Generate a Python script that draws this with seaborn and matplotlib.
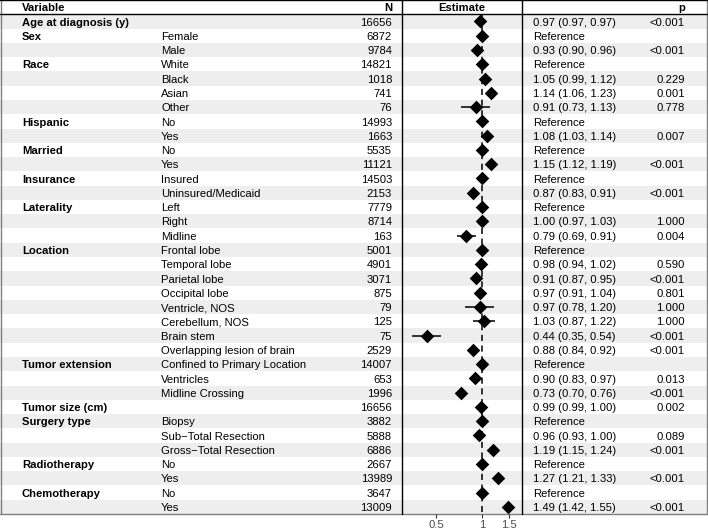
import numpy as np
import pandas as pd
import matplotlib
matplotlib.use("Agg")
import matplotlib.pyplot as plt
import seaborn as sns

# --- data ---
variable = ["Age at diagnosis (y)", "Sex", "", "Race", "", "", "", "Hispanic", "",
            "Married", "", "Insurance", "", "Laterality", "", "", "Location", "", "",
            "", "", "", "", "", "Tumor extension", "", "", "Tumor size (cm)",
            "Surgery type", "", "", "Radiotherapy", "", "Chemotherapy", ""]
level = ["", "Female", "Male", "White", "Black", "Asian", "Other", "No", "Yes",
         "No", "Yes", "Insured", "Uninsured/Medicaid", "Left", "Right", "Midline",
         "Frontal lobe", "Temporal lobe", "Parietal lobe", "Occipital lobe",
         "Ventricle, NOS", "Cerebellum, NOS", "Brain stem", "Overlapping lesion of brain",
         "Confined to Primary Location", "Ventricles", "Midline Crossing", "",
         "Biopsy", "Sub\u2212Total Resection", "Gross\u2212Total Resection", "No", "Yes",
         "No", "Yes"]
n_obs = [16656, 6872, 9784, 14821, 1018, 741, 76, 14993, 1663, 5535, 11121, 14503,
         2153, 7779, 8714, 163, 5001, 4901, 3071, 875, 79, 125, 75, 2529, 14007, 653,
         1996, 16656, 3882, 5888, 6886, 2667, 13989, 3647, 13009]
# None = reference level
hr = [0.97, None, 0.93, None, 1.05, 1.14, 0.91, None, 1.08, None, 1.15, None, 0.87,
      None, 1.00, 0.79, None, 0.98, 0.91, 0.97, 0.97, 1.03, 0.44, 0.88, None, 0.90,
      0.73, 0.99, None, 0.96, 1.19, None, 1.27, None, 1.49]
ci_low = [0.97, None, 0.90, None, 0.99, 1.06, 0.73, None, 1.03, None, 1.12, None, 0.83,
          None, 0.97, 0.69, None, 0.94, 0.87, 0.91, 0.78, 0.87, 0.35, 0.84, None, 0.83,
          0.70, 0.99, None, 0.93, 1.15, None, 1.21, None, 1.42]
ci_high = [0.97, None, 0.96, None, 1.12, 1.23, 1.13, None, 1.14, None, 1.19, None, 0.91,
           None, 1.03, 0.91, None, 1.02, 0.95, 1.04, 1.20, 1.22, 0.54, 0.92, None, 0.97,
           0.76, 1.00, None, 1.00, 1.24, None, 1.33, None, 1.55]
p_val = ["<0.001", "", "<0.001", "", "0.229", "0.001", "0.778", "", "0.007", "",
         "<0.001", "", "<0.001", "", "1.000", "0.004", "", "0.590", "<0.001", "0.801",
         "1.000", "1.000", "<0.001", "<0.001", "", "0.013", "<0.001", "0.002", "",
         "0.089", "<0.001", "", "<0.001", "", "<0.001"]

df = pd.DataFrame({"variable": variable, "level": level, "n": n_obs,
                   "hr": hr, "lo": ci_low, "hi": ci_high, "p": p_val})
df["row"] = np.arange(len(df)) + 1.5          # row 0 is the header
df["hr_plot"] = df["hr"].fillna(1.0)

sns.set_style("white")
plt.rcParams["font.family"] = ["Liberation Sans", "DejaVu Sans"]
plt.rcParams["text.color"] = "black"
FS = 8.1
DY = 0.08   # small downward nudge of the text inside each row

fig = plt.figure(figsize=(7.08, 5.31), dpi=100)
H = 514 / 531
nrows = len(df) + 1

# table background axes (x in pixels)
tab = fig.add_axes([0, 1 - H, 1, H])
tab.set_xlim(0, 708)
tab.set_ylim(nrows, 0)
tab.axis("off")

for j in range(len(df)):
    if j % 2 == 0:
        tab.axhspan(j + 1, j + 2, color="#EEEEEE", lw=0)

# borders
tab.plot([1, 1], [0, nrows], color="#7F7F7F", lw=1, clip_on=False)
tab.plot([707, 707], [0, nrows], color="#7F7F7F", lw=1, clip_on=False)
tab.plot([0, 708], [nrows, nrows], color="#7F7F7F", lw=1, clip_on=False)
tab.plot([0, 708], [0, 0], color="black", lw=1, clip_on=False)
tab.plot([0, 708], [1, 1], color="black", lw=1, clip_on=False)
for xv in (402, 522):
    tab.plot([xv, xv], [0, nrows], color="black", lw=1, clip_on=False)

# header
tab.text(22, 0.5 + DY, "Variable", fontsize=FS, fontweight="bold", va="center")
tab.text(392, 0.5 + DY, "N", fontsize=FS, fontweight="bold", va="center", ha="right")
tab.text(462, 0.5 + DY, "Estimate", fontsize=FS, fontweight="bold", va="center", ha="center")
tab.text(685, 0.5 + DY, "p", fontsize=FS, fontweight="bold", va="center", ha="right")

for _, r in df.iterrows():
    y = r["row"] + DY
    tab.text(22, y, r["variable"], fontsize=FS, fontweight="bold", va="center")
    tab.text(161, y, r["level"], fontsize=FS, va="center")
    tab.text(392, y, str(r["n"]), fontsize=FS, va="center", ha="right")
    if pd.isna(r["hr"]):
        lab = "Reference"
    else:
        lab = f"{r['hr']:.2f} ({r['lo']:.2f}, {r['hi']:.2f})"
    tab.text(533, y, lab, fontsize=FS, va="center")
    tab.text(685, y, r["p"], fontsize=FS, va="center", ha="right")

# estimate panel (log scale)
est = fig.add_axes([402 / 708, 1 - H, 120 / 708, H])
est.patch.set_alpha(0)
est.set_xscale("log")
est.set_xlim(0.30, 1.83)
est.set_ylim(nrows, 0)

est.vlines(1, 1, nrows, color="black", lw=1.1, linestyles=(0, (4, 3)))
ci = df.dropna(subset=["lo"])
est.hlines(ci["row"], ci["lo"], ci["hi"], color="black", lw=1.1)
sns.scatterplot(data=df, x="hr_plot", y="row", marker="D", s=48, color="black",
                linewidth=0, ax=est, legend=False, zorder=3)

for s in est.spines.values():
    s.set_visible(False)
est.set_xlabel("")
est.set_ylabel("")
est.set_yticks([])
est.set_xticks([0.5, 1, 1.5])
est.set_xticklabels(["0.5", "1", "1.5"])
est.minorticks_off()
est.tick_params(axis="x", bottom=True, length=3, width=0.8, color="#333333",
                labelcolor="#4D4D4D", labelsize=FS, pad=1.5)

fig.savefig("out.png", dpi=100)
